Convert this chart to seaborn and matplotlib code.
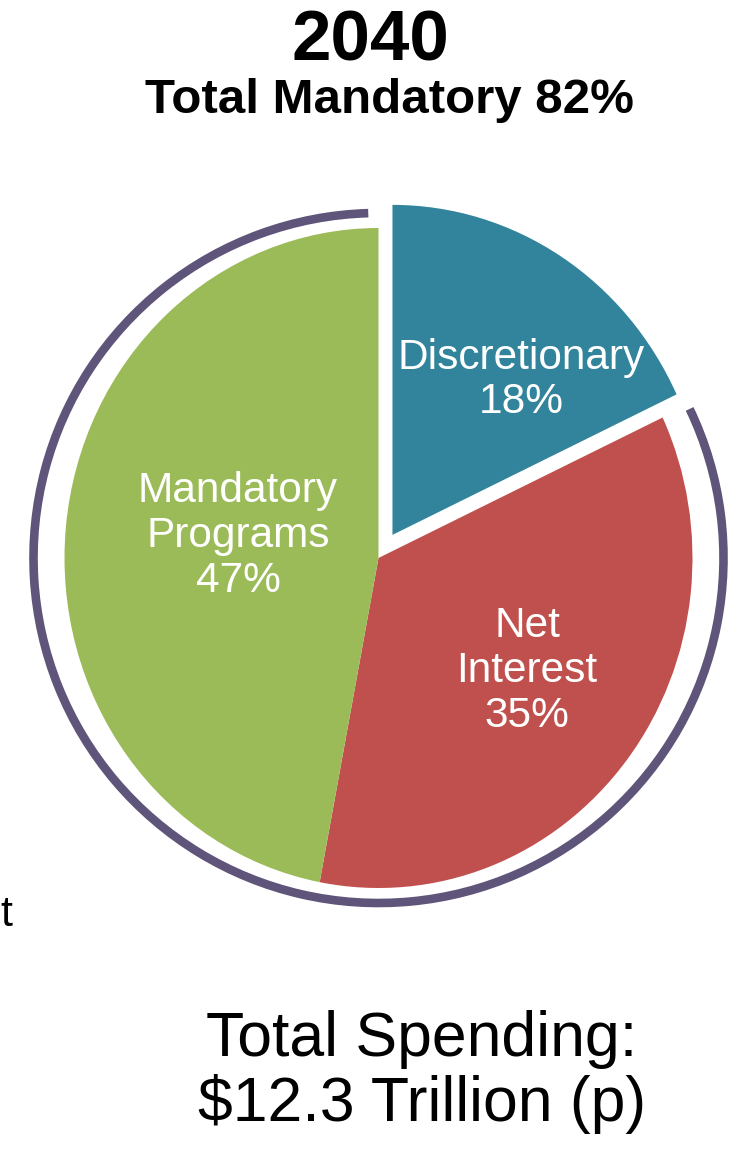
import matplotlib
matplotlib.use("Agg")
import matplotlib.pyplot as plt
from matplotlib.patches import Arc
import seaborn as sns

# Chart data
categories = ["Discretionary", "Net Interest", "Mandatory Programs"]
label_text = ["Discretionary\n18%", "Net\nInterest\n35%", "Mandatory\nPrograms\n47%"]
shares = [18, 35, 47]
explode = [0.083, 0, 0]
title_year = "2040"
title_sub = "Total Mandatory 82%"
footer = "Total Spending:\n$12.3 Trillion (p)"

sns.set_style("white")
plt.rcParams['font.family'] = ['Liberation Sans', 'DejaVu Sans']
plt.rcParams['text.color'] = 'black'
colors = sns.color_palette(["#31849b", "#c0504d", "#9bbb59"])
arc_color = "#5f5479"

W, H = 738, 1151
fig = plt.figure(figsize=(W / 100, H / 100), dpi=100)

# pie axes (slightly taller than wide, like the source image)
rx, ry = 314, 330
cx, cy = 378.5, 558
aw, ah = 2.5 * rx, 2.5 * ry
ax = fig.add_axes([(cx - aw / 2) / W, (H - cy - ah / 2) / H, aw / W, ah / H])
wedges, _ = ax.pie(shares, explode=explode, colors=colors, startangle=90,
                   counterclock=False, wedgeprops=dict(linewidth=0))
ax.set_aspect('auto')
ax.set_xlim(-1.25, 1.25)
ax.set_ylim(-1.25, 1.25)
ax.axis('off')

# overlay in pixel coordinates for the arc and the text
ov = fig.add_axes([0, 0, 1, 1])
ov.set_xlim(0, W)
ov.set_ylim(0, H)
ov.axis('off')
ov.patch.set_alpha(0)

# purple bracket around the mandatory part
ov.add_patch(Arc((cx, H - cy), 690, 690, theta1=91.7, theta2=385.6,
                 color=arc_color, lw=6.2, capstyle='butt'))

# slice labels
label_pos = [(521, 380), (527, 671), (238, 536)]
for txt, (x, y) in zip(label_text, label_pos):
    ov.text(x, H - y, txt, color="white", fontsize=30.5, ha="center",
            va="center", linespacing=1.15)

# titles
ov.text(370, H - 60, title_year, fontsize=51, fontweight="bold",
        color="black", ha="center", va="baseline")
ov.text(389, H - 113, title_sub, fontsize=35.5, fontweight="bold",
        color="black", ha="center", va="baseline")

# footer
ov.text(422, H - 1072, footer, fontsize=45, color="black", ha="center",
        va="center", linespacing=1.12)

# cut-off text from the neighbouring chart
ov.text(0, H - 915, "t", fontsize=31, color="black", ha="left", va="center")

fig.savefig("out.png", dpi=100)
